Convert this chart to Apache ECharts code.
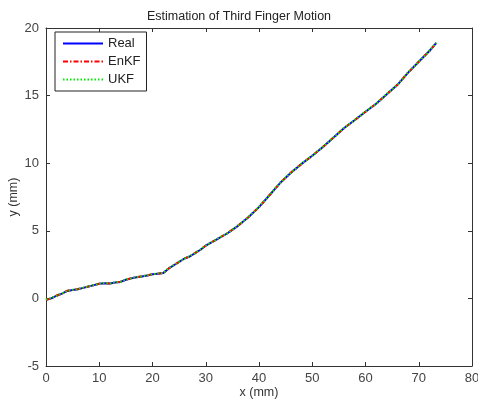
<!DOCTYPE html>
<html><head><meta charset="utf-8">
<script src="https://cdn.jsdelivr.net/npm/echarts@6/dist/echarts.min.js"></script>
<style>html,body{margin:0;padding:0;background:#fff}#c{width:478px;height:400px}</style>
</head><body><div id="c"></div>
<script>
const xVals = [0,1,2,3,4,5,6,7,8,9,10,11,12,13,14,15,16,17,18,19,20,21,22,23,24,25,26,27,28,29,30,32,34,36,38,40,42,44,46,48,50,52,54,56,58,60,62,64,66,68,70,72,73.3];
const yReal = [-0.1,0.0,0.2,0.35,0.55,0.62,0.68,0.78,0.88,0.98,1.08,1.12,1.1,1.17,1.22,1.38,1.48,1.56,1.62,1.7,1.78,1.83,1.87,2.2,2.45,2.7,2.95,3.1,3.35,3.6,3.9,4.35,4.8,5.35,6.0,6.75,7.65,8.55,9.3,9.95,10.55,11.2,11.9,12.6,13.2,13.8,14.4,15.1,15.8,16.7,17.5,18.3,18.9];
const yEnKF = [-0.1,0.0,0.22,0.35,0.57,0.62,0.69,0.78,0.89,0.98,1.09,1.12,1.11,1.17,1.24,1.38,1.49,1.56,1.64,1.7,1.79,1.83,1.88,2.2,2.46,2.7,2.96,3.1,3.36,3.6,3.91,4.35,4.81,5.35,6.01,6.75,7.65,8.55,9.31,9.95,10.56,11.2,11.9,12.6,13.2,13.8,14.4,15.1,15.8,16.7,17.5,18.3,18.9];
const yUKF = [-0.08,0.02,0.2,0.37,0.55,0.64,0.68,0.8,0.88,1.0,1.08,1.14,1.1,1.19,1.22,1.4,1.48,1.58,1.62,1.72,1.78,1.85,1.87,2.22,2.45,2.72,2.95,3.12,3.35,3.62,3.9,4.37,4.8,5.37,6.0,6.77,7.65,8.57,9.3,9.97,10.55,11.22,11.9,12.62,13.2,13.82,14.4,15.12,15.8,16.72,17.5,18.32,18.9];
const xTicks = [0,10,20,30,40,50,60,70,80];
const yTicks = [-5,0,5,10,15,20];
const titleText = 'Estimation of Third Finger Motion';
const seriesNames = ['Real','EnKF','UKF'];

const pairs = ys => xVals.map((x,i)=>[x, ys[i]]);
const font = 'Liberation Sans, Arial, sans-serif';
const axisCommon = {
  axisLine:{show:true, onZero:false, lineStyle:{color:'#333', width:1}},
  axisTick:{show:true, inside:true, length:4, lineStyle:{color:'#333'}},
  splitLine:{show:false},
};
const chart = echarts.init(document.getElementById('c'), null, {renderer:'canvas'});
chart.setOption({
  animation:false,
  backgroundColor:'#fff',
  title:{text:titleText, left:'center', top:5, textStyle:{fontFamily:font, fontSize:12.5, fontWeight:'normal', color:'#222'}},
  grid:{left:46, right:6, top:28, bottom:34, containLabel:false, outerBoundsMode:'none'},
  legend:{
    orient:'vertical', left:55, top:32, data:seriesNames,
    itemWidth:40, itemHeight:12, itemGap:5,
    borderColor:'#222', borderWidth:1, borderRadius:0, padding:[5,6,5,7],
    backgroundColor:'#fff',
    itemStyle:{opacity:0},
    textStyle:{fontFamily:font, fontSize:13, color:'#222'}
  },
  xAxis:[
    Object.assign({type:'value', min:0, max:80, interval:10, position:'bottom',
      name:'x (mm)', nameLocation:'middle', nameGap:20, nameMoveOverlap:false,
      nameTextStyle:{fontFamily:font, fontSize:12.5, color:'#333'},
      axisLabel:{fontFamily:font, fontSize:13, color:'#444', margin:6}}, axisCommon),
    Object.assign({type:'value', min:0, max:80, interval:10, position:'top',
      axisLabel:{show:false}}, axisCommon)
  ],
  yAxis:[
    Object.assign({type:'value', min:-5, max:20, interval:5, position:'left',
      name:'y (mm)', nameLocation:'middle', nameGap:26, nameMoveOverlap:false,
      nameTextStyle:{fontFamily:font, fontSize:12.5, color:'#333'},
      axisLabel:{fontFamily:font, fontSize:13, color:'#444', margin:7}}, axisCommon),
    Object.assign({type:'value', min:-5, max:20, interval:5, position:'right',
      axisLabel:{show:false}}, axisCommon)
  ],
  series:[
    {name:'Real', type:'line', data:pairs(yReal), showSymbol:false, symbol:'none', color:'#0000ff', lineStyle:{color:'#0000ff', width:2, type:'solid'}},
    {name:'EnKF', type:'line', data:pairs(yEnKF), showSymbol:false, symbol:'none', color:'#ff0000', lineStyle:{color:'#ff0000', width:2, type:[5,2,1.5,2]}},
    {name:'UKF', type:'line', data:pairs(yUKF), showSymbol:false, symbol:'none', color:'#00dd00', lineStyle:{color:'#00ee00', width:2, type:[1.5,2]}}
  ]
});
</script></body></html>
